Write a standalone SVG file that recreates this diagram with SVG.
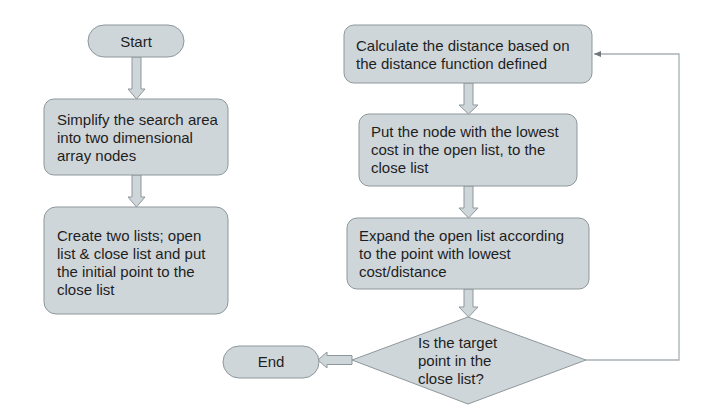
<svg xmlns="http://www.w3.org/2000/svg" width="717" height="418" viewBox="0 0 717 418">
<defs>
<style>
.n{fill:#cfd6da;stroke:#8e979b;stroke-width:1}
.t{font-family:"Liberation Sans",Arial,sans-serif;font-size:15px;fill:#1e1e1e}
.c{text-anchor:middle}
.ba{fill:#cfd6da;stroke:#8e979b;stroke-width:1}
.ln{fill:none;stroke:#a8b0b4;stroke-width:1.3}
</style>
<marker id="ah" markerWidth="8" markerHeight="8" refX="7" refY="4" orient="auto" markerUnits="userSpaceOnUse">
<path d="M0,1 L7,4 L0,7 Z" fill="#6f777b"/>
</marker>
</defs>
<rect width="717" height="418" fill="#ffffff"/>
<g id="connectors">
<path class="ba" d="M132,57 L141,57 L141,89 L145,89 L136.5,99 L128,89 L132,89 Z"/>
<path class="ba" d="M132,175 L141,175 L141,197 L145,197 L136.5,207 L128,197 L132,197 Z"/>
<path class="ba" d="M464,83 L473,83 L473,105 L478,105 L468.5,114 L459,105 L464,105 Z"/>
<path class="ba" d="M464,186 L473,186 L473,208 L478,208 L468.5,218 L459,208 L464,208 Z"/>
<path class="ba" d="M464,289 L473,289 L473,307 L478,307 L468.5,317 L459,307 L464,307 Z"/>
<path class="ba" d="M352,355.5 L352,364.5 L327,364.5 L327,368 L318,360 L327,352 L327,355.5 Z"/>
<path class="ln" d="M586,360 L679,360 L679,54 L594,54" marker-end="url(#ah)"/>
</g>
<g id="start">
<rect class="n" x="88" y="25" width="96" height="32" rx="16"/>
<text class="t c" x="136" y="47">Start</text>
</g>
<g id="simplify">
<rect class="n" x="44" y="99" width="184" height="76" rx="10"/>
<text class="t" x="57" y="125">Simplify the search area</text>
<text class="t" x="57" y="143">into two dimensional</text>
<text class="t" x="57" y="161">array nodes</text>
</g>
<g id="create">
<rect class="n" x="44" y="207" width="184" height="107" rx="12"/>
<text class="t" x="57" y="241">Create two lists; open</text>
<text class="t" x="57" y="259">list &amp; close list and put</text>
<text class="t" x="57" y="277">the initial point to the</text>
<text class="t" x="57" y="295">close list</text>
</g>
<g id="calculate">
<rect class="n" x="344" y="25" width="248" height="58" rx="10"/>
<text class="t" x="356" y="51">Calculate the distance based on</text>
<text class="t" x="356" y="69">the distance function defined</text>
</g>
<g id="put">
<rect class="n" x="359" y="114" width="218" height="72" rx="10"/>
<text class="t" x="371" y="137">Put the node with the lowest</text>
<text class="t" x="371" y="155">cost in the open list, to the</text>
<text class="t" x="371" y="173">close list</text>
</g>
<g id="expand">
<rect class="n" x="347" y="218" width="242" height="71" rx="10"/>
<text class="t" x="359" y="241">Expand the open list according</text>
<text class="t" x="359" y="259">to the point with lowest</text>
<text class="t" x="359" y="277">cost/distance</text>
</g>
<g id="decision">
<polygon class="n" points="468,317 586,360 468,404 352,360"/>
<text class="t" x="418" y="348">Is the target</text>
<text class="t" x="418" y="366">point in the</text>
<text class="t" x="418" y="384">close list?</text>
</g>
<g id="end">
<rect class="n" x="223" y="346" width="96" height="32" rx="16"/>
<text class="t c" x="271" y="367">End</text>
</g>
</svg>
